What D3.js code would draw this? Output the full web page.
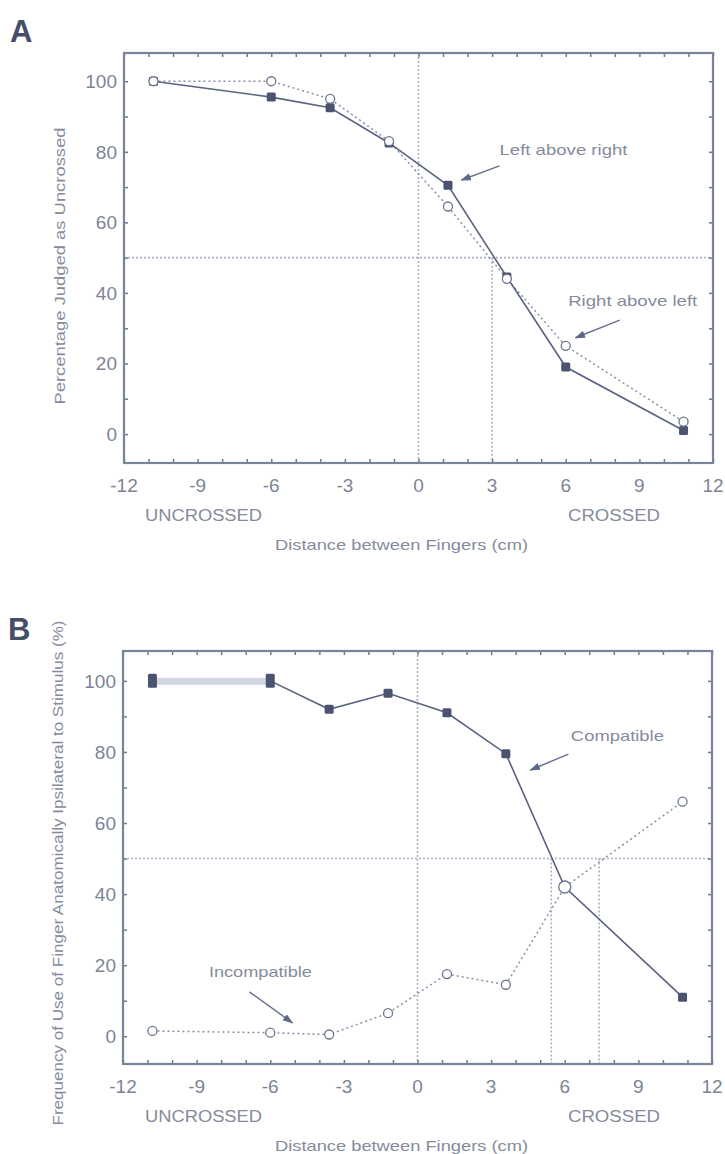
<!DOCTYPE html>
<html>
<head>
<meta charset="utf-8">
<script src="https://cdn.jsdelivr.net/npm/d3@7"></script>
<style>
    body { margin: 0; background: #fff; }
    svg { display: block; }
    .tickText { font-family: "Liberation Sans Narrow", "Arial Narrow", "Liberation Sans", sans-serif; fill: #7d8496; }
    .label { font-family: "Liberation Sans Narrow", "Arial Narrow", "Liberation Sans", sans-serif; fill: #858b9c; }
    .panel { font-family: "Liberation Sans", Arial, sans-serif; font-weight: bold; fill: #464d66; }
</style>
</head>
<body>
<div class="container"></div>
<script>
(function () {

    //distances (cm) where both panels were sampled
    var distances = [-10.8, -6, -3.6, -1.2, 1.2, 3.6, 6, 10.8];

    //panel A: percentage judged as uncrossed
    var leftAboveRight = [100, 95.5, 92.5, 82.5, 70.5, 44.5, 19, 1];
    var rightAboveLeft = [100, 100, 95, 83, 64.5, 44, 25, 3.5];

    //panel B: frequency of use of finger ipsilateral to stimulus
    var compatible = [100, 100, 92, 96.5, 91, 79.5, 42, 11];
    var incompatible = [1.5, 1, 0.5, 6.5, 17.5, 14.5, 42, 66];

    //tick labels
    var xTicks = [-12, -9, -6, -3, 0, 3, 6, 9, 12];
    var yTicks = [0, 20, 40, 60, 80, 100];

    //reference lines [x or y value]
    var refA = { h: [50], vFull: [0], vHalf: [3] };
    var refB = { h: [50], vFull: [0], vHalf: [5.45, 7.4] };

    var width = 725, height = 1154;
    var ink = "#5a6380", light = "#8890a8", grid = "#aab1c4";

    var svg = d3.select(".container")
        .append("svg")
        .attr("width", width)
        .attr("height", height);

    //arrow head
    svg.append("defs").append("marker")
        .attr("id", "arrow")
        .attr("viewBox", "0 0 10 10")
        .attr("refX", 9).attr("refY", 5)
        .attr("markerWidth", 7).attr("markerHeight", 7)
        .attr("orient", "auto")
        .append("path")
        .attr("d", "M0,1.5 L10,5 L0,8.5 z")
        .style("fill", "#5f6884");

    /**
     * draw one panel: frame, ticks, reference lines, two series, labels
     */
    function drawPanel(opt) {
        var x = d3.scaleLinear().domain([-12, 12]).range([opt.left, opt.right]);
        var y = d3.scaleLinear().domain(opt.yDomain).range([opt.bottom, opt.top]);
        var g = svg.append("g");

        //dotted reference lines
        opt.ref.h.forEach(function (v) {
            g.append("line")
                .attr("x1", opt.left).attr("x2", opt.right)
                .attr("y1", y(v)).attr("y2", y(v))
                .style("stroke", grid).style("stroke-width", 1.6)
                .style("stroke-dasharray", "2,2");
        });
        opt.ref.vFull.forEach(function (v) {
            g.append("line")
                .attr("x1", x(v)).attr("x2", x(v))
                .attr("y1", opt.top).attr("y2", opt.bottom)
                .style("stroke", grid).style("stroke-width", 1.6)
                .style("stroke-dasharray", "2,2");
        });
        opt.ref.vHalf.forEach(function (v) {
            g.append("line")
                .attr("x1", x(v)).attr("x2", x(v))
                .attr("y1", y(opt.ref.h[0])).attr("y2", opt.bottom)
                .style("stroke", grid).style("stroke-width", 1.6)
                .style("stroke-dasharray", "2,2");
        });

        //axes with inward ticks, labels every 3 / 20
        var minorX = d3.range(-12, 13, 1), minorY = d3.range(-0, 101, 10);
        g.append("g")
            .attr("transform", "translate(0," + opt.bottom + ")")
            .call(d3.axisBottom(x).tickValues(minorX).tickSize(-4).tickFormat(""));
        g.append("g")
            .attr("transform", "translate(0," + opt.top + ")")
            .call(d3.axisTop(x).tickValues(minorX).tickSize(-4).tickFormat(""));
        g.append("g")
            .attr("transform", "translate(" + opt.left + ",0)")
            .call(d3.axisLeft(y).tickValues(minorY).tickSize(-4).tickFormat(""));
        g.append("g")
            .attr("transform", "translate(" + opt.right + ",0)")
            .call(d3.axisRight(y).tickValues(minorY).tickSize(-4).tickFormat(""));
        g.selectAll(".domain").remove();
        g.selectAll(".tick line").style("stroke", "#6f7892").style("stroke-width", 1.5);

        //frame
        g.append("rect")
            .attr("x", opt.left).attr("y", opt.top)
            .attr("width", opt.right - opt.left)
            .attr("height", opt.bottom - opt.top)
            .style("fill", "none")
            .style("stroke", "#7a839c")
            .style("stroke-width", 2.2);

        //tick labels
        g.selectAll(".xLab")
            .data(xTicks).enter().append("text")
            .attr("class", "tickText")
            .attr("x", function (d) { return x(d); })
            .attr("y", opt.bottom + 29)
            .attr("text-anchor", "middle")
            .style("font-size", "19px")
            .text(function (d) { return d; });
        g.selectAll(".yLab")
            .data(yTicks).enter().append("text")
            .attr("class", "tickText")
            .attr("x", opt.left - 7)
            .attr("y", function (d) { return y(d) + 7; })
            .attr("text-anchor", "end")
            .style("font-size", "19px")
            .text(function (d) { return d; });

        //light band for B first segment
        if (opt.band) {
            g.append("rect")
                .attr("x", x(distances[0]))
                .attr("y", y(opt.solid[0]) - 3)
                .attr("width", x(distances[1]) - x(distances[0]))
                .attr("height", 7)
                .style("fill", "#d3d7e1");
        }

        var line = d3.line()
            .x(function (d) { return x(d[0]); })
            .y(function (d) { return y(d[1]); });
        var solidPts = d3.zip(distances, opt.solid);
        var openPts = d3.zip(distances, opt.open);

        g.append("path")
            .datum(openPts)
            .attr("d", line)
            .style("fill", "none")
            .style("stroke", light)
            .style("stroke-width", 1.5)
            .style("stroke-dasharray", "2,3");
        g.append("path")
            .datum(opt.band ? solidPts.slice(1) : solidPts)
            .attr("d", line)
            .style("fill", "none")
            .style("stroke", ink)
            .style("stroke-width", 1.6);

        //filled squares
        g.selectAll(".filled")
            .data(solidPts).enter().append("rect")
            .attr("x", function (d) { return x(d[0]) - 4.5; })
            .attr("y", function (d, i) { return y(d[1]) - (opt.band && i < 2 ? 7 : 4.5); })
            .attr("width", 9)
            .attr("height", function (d, i) { return opt.band && i < 2 ? 14 : 9; })
            .attr("rx", 1.5)
            .style("fill", "#4b5370");

        //open circles
        g.selectAll(".open")
            .data(openPts).enter().append("circle")
            .attr("cx", function (d) { return x(d[0]); })
            .attr("cy", function (d) { return y(d[1]); })
            .attr("r", function (d, i) { return opt.bigOpen === i ? 6 : 4.5; })
            .style("fill", "#fff")
            .style("stroke", "#6d7690")
            .style("stroke-width", 1.3);

        //annotations
        opt.notes.forEach(function (n) {
            g.append("text")
                .attr("class", "label")
                .attr("x", x(n.tx)).attr("y", y(n.ty))
                .attr("textLength", n.len)
                .attr("lengthAdjust", "spacingAndGlyphs")
                .style("font-size", "15px")
                .text(n.text);
            g.append("line")
                .attr("x1", x(n.from[0])).attr("y1", y(n.from[1]))
                .attr("x2", x(n.to[0])).attr("y2", y(n.to[1]))
                .attr("marker-end", "url(#arrow)")
                .style("stroke", "#6a738e")
                .style("stroke-width", 1.5);
        });

        //uncrossed / crossed
        g.append("text").attr("class", "label")
            .attr("x", 145).attr("y", opt.bottom + 58)
            .attr("textLength", 117).attr("lengthAdjust", "spacingAndGlyphs")
            .style("font-size", "16px").text("UNCROSSED");
        g.append("text").attr("class", "label")
            .attr("x", 568).attr("y", opt.bottom + 58)
            .attr("textLength", 92).attr("lengthAdjust", "spacingAndGlyphs")
            .style("font-size", "16px").text("CROSSED");

        //axis titles
        g.append("text").attr("class", "label")
            .attr("x", 275).attr("y", opt.bottom + 87)
            .attr("textLength", 253).attr("lengthAdjust", "spacingAndGlyphs")
            .style("font-size", "15px").text("Distance between Fingers (cm)");
        g.append("text").attr("class", "label")
            .attr("transform", "translate(" + opt.yTitleX + "," + opt.yTitleY + ") rotate(-90)")
            .attr("text-anchor", "middle")
            .attr("textLength", opt.yTitleLen).attr("lengthAdjust", "spacingAndGlyphs")
            .style("font-size", "14px").text(opt.yTitle);

        //panel letter
        g.append("text").attr("class", "panel")
            .attr("x", opt.letterX).attr("y", opt.letterY)
            .style("font-size", "31px").text(opt.letter);
    }

    drawPanel({
        letter: "A", letterX: 10, letterY: 42,
        left: 124, right: 713, top: 53, bottom: 463,
        yDomain: [-8.2, 108],
        ref: refA,
        solid: leftAboveRight,
        open: rightAboveLeft,
        band: false,
        yTitle: "Percentage Judged as Uncrossed",
        yTitleX: 65, yTitleY: 266, yTitleLen: 277,
        notes: [
            { text: "Left above right", tx: 3.3, ty: 79, len: 128, from: [3.3, 76], to: [1.75, 72] },
            { text: "Right above left", tx: 6.1, ty: 36.3, len: 129, from: [8.2, 32.3], to: [6.4, 27.3] }
        ]
    });

    drawPanel({
        letter: "B", letterX: 8, letterY: 640,
        left: 123, right: 712, top: 651, bottom: 1064,
        yDomain: [-7.8, 108.4],
        ref: refB,
        solid: compatible,
        open: incompatible,
        band: true,
        bigOpen: 6,
        yTitle: "Frequency of Use of Finger Anatomically Ipsilateral to Stimulus (%)",
        yTitleX: 63, yTitleY: 873, yTitleLen: 505,
        notes: [
            { text: "Compatible", tx: 6.25, ty: 83, len: 93, from: [6.15, 79.4], to: [4.6, 74.9] },
            { text: "Incompatible", tx: -8.5, ty: 16.6, len: 103, from: [-6.85, 12.5], to: [-5.1, 3.8] }
        ]
    });

})();
</script>
</body>
</html>
